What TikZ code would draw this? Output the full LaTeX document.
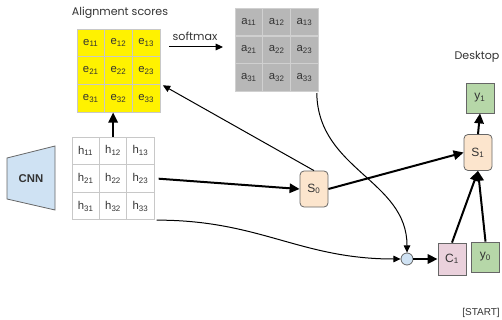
\documentclass[tikz,border=0pt]{standalone}
\usepackage{fontspec}
\setmainfont{Liberation Sans}
\newfontfamily\titlefont{Poppins}
\usetikzlibrary{arrows.meta}
\definecolor{txt}{HTML}{333333}
\definecolor{cellline}{HTML}{C8C8C8}
\definecolor{grayfill}{HTML}{B7B7B7}
\definecolor{grayline}{HTML}{D0D0D0}
\definecolor{cnnfill}{HTML}{CFE2F3}
\definecolor{peach}{HTML}{FCE5CD}
\definecolor{pinkfill}{HTML}{EAD1DC}
\definecolor{greenfill}{HTML}{B6D7A8}
\tikzset{
  cellbase/.style={draw, line width=0.6pt, minimum width=20.8pt, minimum height=20.8pt, inner sep=0pt, font=\fontsize{8.5}{10}\selectfont, text=txt},
  ecell/.style={cellbase, fill=yellow, draw=cellline},
  acell/.style={cellbase, fill=grayfill, draw=grayline},
  hcell/.style={cellbase, fill=white, draw=cellline, minimum width=20.6pt, minimum height=20.6pt},
  statebox/.style={draw=gray!80!black, line width=0.6pt, fill=peach, rounded corners=3pt, minimum width=21pt, minimum height=27pt, inner sep=0pt, font=\fontsize{9}{10}\selectfont, text=txt},
  ctxbox/.style={draw=gray!80!black, line width=0.6pt, fill=pinkfill, minimum width=21pt, minimum height=24pt, inner sep=0pt, font=\fontsize{9}{10}\selectfont, text=txt},
  ybox/.style={draw=gray!80!black, line width=0.6pt, fill=greenfill, minimum width=21pt, minimum height=22.5pt, inner sep=0pt, font=\fontsize{9}{10}\selectfont, text=txt},
  dotnode/.style={circle, draw=gray!80!black, line width=0.6pt, fill=cnnfill, minimum size=9pt, inner sep=0pt},
  label/.style={font=\titlefont\fontsize{8.3}{10}\selectfont, text=txt},
  thick arrow/.style={line width=1.5pt, -{Triangle[length=7.5pt,width=7pt]}},
  thin arrow/.style={line width=0.75pt, -{Triangle[length=5.5pt,width=5pt]}},
}
\begin{document}
\begin{tikzpicture}[x=0.75pt, y=-0.75pt]
\useasboundingbox (0,0) rectangle (502,320);
% titles
\node[label] (title) at (120,13) {Alignment scores};
\node[label] (softmax) at (195,36) {softmax};
\node[label] (desktop) at (477,57) {Desktop};
\node[font=\fontsize{7.5}{9}\selectfont, text=txt] (start) at (481,313) {[START]};
% yellow grid
\foreach \i in {1,2,3} \foreach \j in {1,2,3}
  \node[ecell] (e\i\j) at ({77+27.7*(\j-0.5)},{29+27.7*(\i-0.5)}) {e\textsubscript{\i\j}};
% gray grid
\foreach \i in {1,2,3} \foreach \j in {1,2,3}
  \node[acell] (a\i\j) at ({235+27.8*(\j-0.5)},{8+27.9*(\i-0.5)}) {a\textsubscript{\i\j}};
% h grid
\foreach \i in {1,2,3} \foreach \j in {1,2,3}
  \node[hcell] (h\i\j) at ({72+27.4*(\j-0.5)},{137+27.6*(\i-0.5)}) {h\textsubscript{\i\j}};
% CNN
\draw[draw=gray!80!black, line width=0.6pt, fill=cnnfill] (7,158) -- (55,146) -- (55,210) -- (7,199) -- cycle;
\node[font=\bfseries\fontsize{8.5}{10}\selectfont, text=txt] (cnn) at (31,179) {CNN};
% decoder nodes
\node[statebox] (s0) at (314,189) {S\textsubscript{0}};
\node[statebox] (s1) at (478,152.5) {S\textsubscript{1}};
\node[ybox] (y1) at (480,98) {y\textsubscript{1}};
\node[ctxbox] (c1) at (452,259) {C\textsubscript{1}};
\node[ybox] (y0) at (485.5,257) {y\textsubscript{0}};
\node[dotnode] (dot) at (407,259) {};
\coordinate (smA) at (169,47);
\coordinate (smB) at (223,47);
% arrows
\draw[thin arrow] (smA) -- (smB);
\draw[thick arrow] (h12.north) -- (h12.north |- e32.south);
\draw[thick arrow, shorten <=3pt] (h23.east) -- (s0.west);
\draw[thick arrow] (s0.east) -- (s1.west);
\draw[thick arrow] (s1.north) -- (y1.south);
\draw[thick arrow] (c1.north) -- (s1.south);
\draw[thick arrow] (y0.north) -- (s1.south);
\draw[thick arrow] (dot.east) -- (c1.west);
\draw[thin arrow, shorten >=2pt] (s0.north) -- (e33.north east);
\draw[thin arrow] (a33.south east) ++(-2,1) .. controls (318,170) and (407,180) .. (dot.north);
\draw[thin arrow] (h33.south east) ++(2,0) .. controls (260,220) and (300,259) .. (dot.west);
\end{tikzpicture}
\end{document}
